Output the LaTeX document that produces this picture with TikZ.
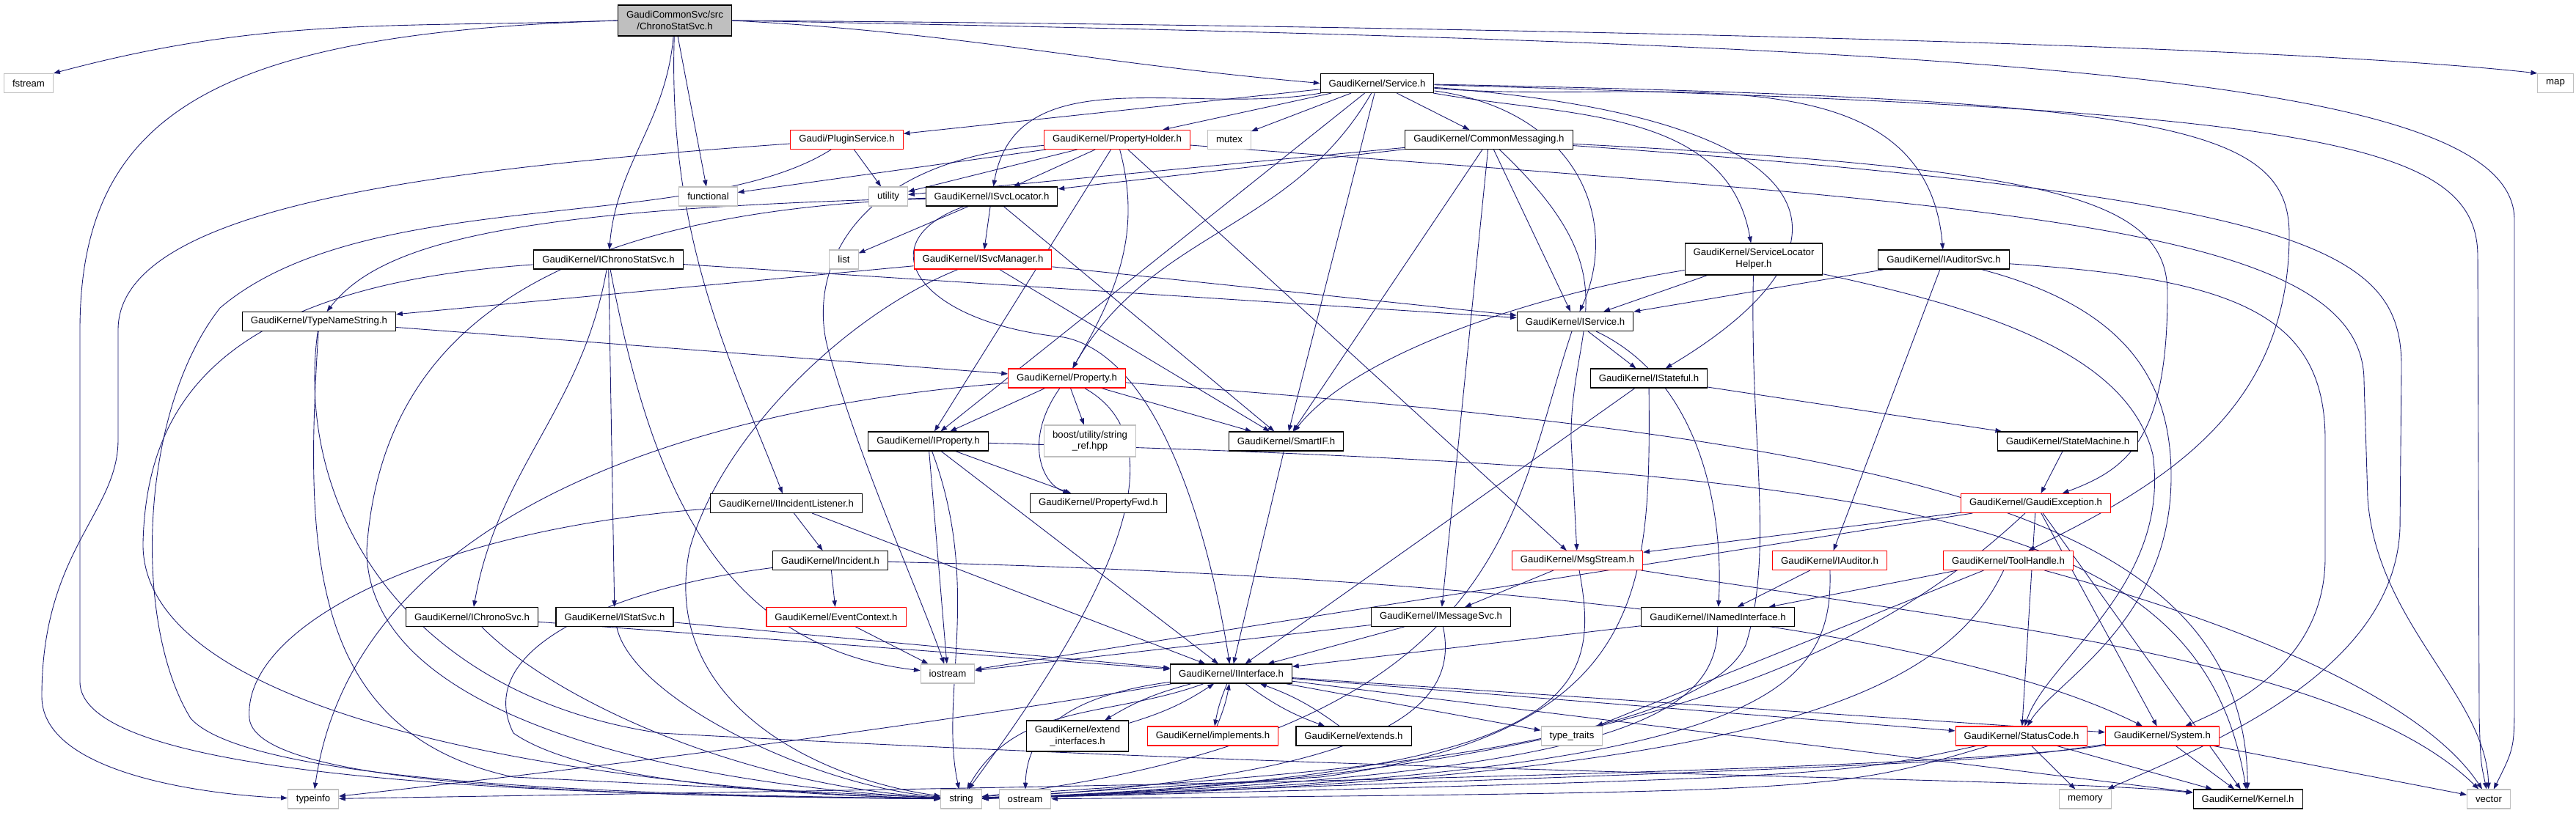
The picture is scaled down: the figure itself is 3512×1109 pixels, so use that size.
\documentclass[tikz,border=0pt]{standalone}
\usepackage{fontspec}
\setmainfont{Liberation Sans}
\usetikzlibrary{arrows.meta,backgrounds}
\definecolor{edgeblue}{HTML}{191970}
\definecolor{boxgray}{HTML}{BFBFBF}
\definecolor{boxred}{HTML}{FF0000}
\begin{document}
\begin{tikzpicture}[x=0.2mm, y=-0.2mm,
  hdr/.style={draw=black, line width=0.6pt, fill=white, inner xsep=0.23cm, inner ysep=0pt,
    minimum height=0.52cm, align=center, font=\fontsize{7.5}{9}\selectfont},
  redhdr/.style={hdr, draw=boxred},
  syshdr/.style={hdr, draw=boxgray},
  roothdr/.style={hdr, fill=boxgray, minimum height=0.84cm},
  dep/.style={draw=edgeblue, line width=0.5pt, -{Triangle[length=5pt,width=3.6pt]}}]
\useasboundingbox (0,0) rectangle (3512,1109);

\node[roothdr] (root) at (920,28) {GaudiCommonSvc/src\\/ChronoStatSvc.h};
\node[syshdr] (fstream) at (39,113.5) {fstream};
\node[syshdr] (map) at (3484,113.5) {map};
\node[hdr] (service) at (1877.5,113.5) {GaudiKernel/Service.h};
\node[redhdr] (plugin) at (1154.5,190.5) {Gaudi/PluginService.h};
\node[redhdr] (propholder) at (1523,190.5) {GaudiKernel/PropertyHolder.h};
\node[syshdr] (mutex) at (1676,190.5) {mutex};
\node[hdr] (commsg) at (2030,190.5) {GaudiKernel/CommonMessaging.h};
\node[syshdr] (functional) at (965.5,268) {functional};
\node[syshdr] (utility) at (1211,268) {utility};
\node[hdr] (svcloc) at (1352,268) {GaudiKernel/ISvcLocator.h};
\node[syshdr] (list) at (1150.5,354) {list};
\node[redhdr] (svcmgr) at (1340,354) {GaudiKernel/ISvcManager.h};
\node[hdr] (ichronostat) at (829.5,354) {GaudiKernel/IChronoStatSvc.h};
\node[hdr, minimum height=0.86cm] (slhelper) at (2391,353.5) {GaudiKernel/ServiceLocator\\Helper.h};
\node[hdr] (iauditorsvc) at (2650,354) {GaudiKernel/IAuditorSvc.h};
\node[hdr] (typename) at (435,438.5) {GaudiKernel/TypeNameString.h};
\node[hdr] (iservice) at (2147.5,438.5) {GaudiKernel/IService.h};
\node[redhdr] (property) at (1454.5,516) {GaudiKernel/Property.h};
\node[hdr] (istateful) at (2248,516) {GaudiKernel/IStateful.h};
\node[hdr] (iproperty) at (1265.5,602) {GaudiKernel/IProperty.h};
\node[syshdr, minimum height=0.86cm] (boost) at (1486,601.5) {boost/utility/string\\\_ref.hpp};
\node[hdr] (smartif) at (1753.5,602) {GaudiKernel/SmartIF.h};
\node[hdr] (statemachine) at (2819,602) {GaudiKernel/StateMachine.h};
\node[hdr] (iincidentl) at (1072,686.5) {GaudiKernel/IIncidentListener.h};
\node[hdr] (propfwd) at (1497.5,686.5) {GaudiKernel/PropertyFwd.h};
\node[redhdr] (gexc) at (2775.5,686.5) {GaudiKernel/GaudiException.h};
\node[hdr] (incident) at (1132,764.5) {GaudiKernel/Incident.h};
\node[redhdr] (msgstream) at (2150.5,764.5) {GaudiKernel/MsgStream.h};
\node[redhdr] (iauditor) at (2494.5,764.5) {GaudiKernel/IAuditor.h};
\node[redhdr] (toolhandle) at (2738,764.5) {GaudiKernel/ToolHandle.h};
\node[hdr] (ichrono) at (643.5,841.5) {GaudiKernel/IChronoSvc.h};
\node[hdr] (istat) at (838,841.5) {GaudiKernel/IStatSvc.h};
\node[redhdr] (evctx) at (1140,841.5) {GaudiKernel/EventContext.h};
\node[hdr] (imsgsvc) at (1964.5,841.5) {GaudiKernel/IMessageSvc.h};
\node[hdr] (inamed) at (2342,841.5) {GaudiKernel/INamedInterface.h};
\node[syshdr] (iostream) at (1292,919) {iostream};
\node[hdr] (iinterface) at (1678.5,919) {GaudiKernel/IInterface.h};
\node[hdr, minimum height=0.84cm] (extendif) at (1469,1004) {GaudiKernel/extend\\\_interfaces.h};
\node[redhdr] (implements) at (1653.5,1004) {GaudiKernel/implements.h};
\node[hdr] (extends) at (1845.5,1004) {GaudiKernel/extends.h};
\node[syshdr] (typetraits) at (2143,1004) {type\_traits};
\node[redhdr] (statuscode) at (2756,1004) {GaudiKernel/StatusCode.h};
\node[redhdr] (system) at (2948,1004) {GaudiKernel/System.h};
\node[syshdr] (typeinfo) at (427,1090) {typeinfo};
\node[syshdr] (string) at (1310.5,1090) {string};
\node[syshdr] (ostream) at (1397.5,1090) {ostream};
\node[syshdr] (memory) at (2843,1090) {memory};
\node[hdr] (kernel) at (3064.5,1090) {GaudiKernel/Kernel.h};
\node[syshdr] (vector) at (3393,1090) {vector};

\begin{pgfonlayer}{background}
% ChronoStatSvc.h
\draw[dep] (root.west) to[out=182,in=15] (fstream.north east);
\draw[dep] (root.west) .. controls (300,45) and (109,150) .. (109,450) -- (109,930) .. controls (109,1060) and (700,1085) .. (string);
\draw[dep] (root.east) .. controls (2000,35) and (3100,60) .. (map.north west);
\draw[dep] (root.east) .. controls (2700,60) and (3428,100) .. (3428,300) -- (3428,950) .. controls (3428,1020) .. (vector);
\draw[dep] (root.east) to[out=-3,in=175] (service.west);
\draw[dep] (root) -- (functional);
\draw[dep] (root) to[out=-95,in=85] (ichronostat);
\draw[dep] (root) .. controls (910,330) and (1000,500) .. (iincidentl);
% Service.h
\draw[dep] (service) -- (plugin);
\draw[dep] (service) -- (propholder);
\draw[dep] (service) -- (mutex);
\draw[dep] (service) -- (commsg);
\draw[dep] (service) to[out=190,in=80] (svcloc);
\draw[dep] (service) .. controls (2150,150) and (2210,300) .. (iservice);
\draw[dep] (service) to[out=-120,in=60] (property);
\draw[dep] (service) -- (iproperty);
\draw[dep] (service) -- (smartif);
\draw[dep] (service) .. controls (2500,160) and (2560,330) .. (istateful);
\draw[dep] (service) to[out=-10,in=100] (slhelper);
\draw[dep] (service) to[out=-5,in=95] (iauditorsvc);
\draw[dep] (service) .. controls (2950,135) and (3121,170) .. (3121,320) .. controls (3121,560) and (2950,660) .. (toolhandle);
\draw[dep] (service) .. controls (3150,150) and (3378,190) .. (3378,350) -- (3380,980) .. controls (3382,1040) .. (vector);
% PropertyHolder.h
\draw[dep] (propholder) -- (functional);
\draw[dep] (propholder) -- (utility);
\draw[dep] (propholder) -- (svcloc);
\draw[dep] (propholder) to[out=-75,in=60] (property);
\draw[dep] (propholder) -- (iproperty);
\draw[dep] (propholder) .. controls (1150,220) and (1100,380) .. (1130,480) .. controls (1180,650) and (1250,800) .. (iostream);
\draw[dep] (propholder) -- (msgstream);
\draw[dep] (propholder) .. controls (2700,280) and (3223,300) .. (3223,520) -- (3228,680) .. controls (3240,850) and (3390,950) .. (vector);
% CommonMessaging.h
\draw[dep] (commsg) -- (utility);
\draw[dep] (commsg) -- (svcloc);
\draw[dep] (commsg) -- (iservice);
\draw[dep] (commsg) -- (smartif);
\draw[dep] (commsg) .. controls (2230,380) and (2140,440) .. (2142,600) -- (msgstream);
\draw[dep] (commsg) -- (imsgsvc);
\draw[dep] (commsg) .. controls (2800,230) and (2955,270) .. (2955,400) .. controls (2955,600) and (2900,640) .. (gexc);
\draw[dep] (commsg) .. controls (3150,270) and (3274,340) .. (3274,500) -- (3272,720) .. controls (3265,920) and (3000,1020) .. (memory);
% PluginService.h
\draw[dep] (plugin) -- (utility);
\draw[dep] (plugin) .. controls (600,230) and (161,280) .. (161,450) -- (161,600) .. controls (161,700) and (57,750) .. (57,950) .. controls (57,1060) and (300,1085) .. (typeinfo);
\draw[dep] (plugin) .. controls (950,320) and (500,250) .. (300,420) .. controls (190,560) and (180,850) .. (260,980) .. controls (350,1080) and (1000,1085) .. (string);
% ISvcLocator.h
\draw[dep] (svcloc) -- (list);
\draw[dep] (svcloc) -- (svcmgr);
\draw[dep] (svcloc) .. controls (700,285) and (520,330) .. (typename);
\draw[dep] (svcloc) .. controls (750,290) and (520,450) .. (500,750) .. controls (500,1000) and (1000,1075) .. (string);
\draw[dep] (svcloc) -- (smartif);
\draw[dep] (svcloc) .. controls (1180,330) and (1250,440) .. (1450,460) .. controls (1600,490) and (1660,800) .. (iinterface);
% ISvcManager.h
\draw[dep] (svcmgr) -- (typename);
\draw[dep] (svcmgr) -- (iservice);
\draw[dep] (svcmgr) -- (smartif);
\draw[dep] (svcmgr) .. controls (1150,430) and (980,600) .. (940,750) .. controls (900,950) and (1100,1060) .. (string);
% IChronoStatSvc.h
\draw[dep] (ichronostat) -- (iservice);
\draw[dep] (ichronostat) to[out=-100,in=80] (ichrono);
\draw[dep] (ichronostat) -- (istat);
\draw[dep] (ichronostat) .. controls (880,620) and (960,880) .. (iostream);
\draw[dep] (ichronostat) .. controls (300,390) and (200,550) .. (195,740) .. controls (190,1000) and (900,1080) .. (string);
% ServiceLocatorHelper.h
\draw[dep] (slhelper) -- (iservice);
\draw[dep] (slhelper) .. controls (2100,400) and (1850,480) .. (smartif);
\draw[dep] (slhelper) .. controls (2385,600) and (2420,750) .. (2380,880) .. controls (2300,1050) and (1500,1070) .. (string);
\draw[dep] (slhelper) .. controls (2700,420) and (2900,480) .. (2935,620) .. controls (2960,800) and (2790,900) .. (statuscode);
% IAuditorSvc.h
\draw[dep] (iauditorsvc) -- (iservice);
\draw[dep] (iauditorsvc) -- (iauditor);
\draw[dep] (iauditorsvc) .. controls (3050,380) and (3170,430) .. (3170,600) -- (3170,760) .. controls (3170,900) and (3050,960) .. (system);
\draw[dep] (iauditorsvc) .. controls (2900,420) and (2960,520) .. (2960,650) .. controls (2960,850) and (2800,930) .. (statuscode);
% TypeNameString.h
\draw[dep] (typename) -- (property);
\draw[dep] (typename) .. controls (415,750) and (420,1000) .. (700,1060) -- (string);
\draw[dep] (typename) .. controls (400,700) and (560,950) .. (900,1000) .. controls (2000,1060) and (2800,1060) .. (kernel);
% Property.h
\draw[dep] (property) -- (iproperty);
\draw[dep] (property) -- (boost);
\draw[dep] (property) -- (smartif);
\draw[dep] (property) .. controls (1395,600) and (1420,660) .. (propfwd);
\draw[dep] (property) .. controls (900,560) and (480,720) .. (typeinfo);
\draw[dep] (property) .. controls (1640,620) and (1450,900) .. (string);
\draw[dep] (property) .. controls (2600,600) and (3060,700) .. (kernel);
% IProperty.h
\draw[dep] (iproperty) -- (propfwd);
\draw[dep] (iproperty) -- (iostream);
\draw[dep] (iproperty) .. controls (1340,800) and (1280,950) .. (string);
\draw[dep] (iproperty) -- (iinterface);
\draw[dep] (iproperty) .. controls (2600,640) and (3000,700) .. (kernel);
% SmartIF.h, IService.h, IStateful.h
\draw[dep] (smartif) -- (iinterface);
\draw[dep] (iservice) -- (istateful);
\draw[dep] (iservice) .. controls (2320,520) and (2350,700) .. (inamed);
\draw[dep] (iservice) .. controls (2060,700) and (2060,1000) .. (string);
\draw[dep] (istateful) -- (statemachine);
\draw[dep] (istateful) -- (iinterface);
\draw[dep] (istateful) .. controls (2250,800) and (2250,1000) .. (1800,1060) -- (string);
\draw[dep] (statemachine) -- (gexc);
% IIncidentListener.h, Incident.h
\draw[dep] (iincidentl) -- (incident);
\draw[dep] (iincidentl) -- (iinterface);
\draw[dep] (iincidentl) .. controls (600,720) and (330,850) .. (340,980) .. controls (350,1080) and (900,1085) .. (string);
\draw[dep] (incident) -- (evctx);
\draw[dep] (incident) .. controls (850,800) and (640,880) .. (700,1000) .. controls (800,1070) and (1100,1085) .. (string);
\draw[dep] (incident) .. controls (1800,780) and (2600,830) .. (system);
\draw[dep] (evctx) -- (iostream);
% IChronoSvc.h, IStatSvc.h, IMessageSvc.h, INamedInterface.h
\draw[dep] (ichrono) -- (iinterface);
\draw[dep] (ichrono) .. controls (750,950) and (1000,1070) .. (string);
\draw[dep] (istat) -- (iinterface);
\draw[dep] (istat) .. controls (860,950) and (1100,1070) .. (string);
\draw[dep] (imsgsvc) -- (iinterface);
\draw[dep] (imsgsvc) -- (iostream);
\draw[dep] (imsgsvc) .. controls (1990,960) and (1900,1060) .. (string);
\draw[dep] (inamed) -- (iinterface);
\draw[dep] (inamed) .. controls (2340,980) and (2200,1060) .. (string);
% MsgStream.h, IAuditor.h, ToolHandle.h
\draw[dep] (msgstream) -- (imsgsvc);
\draw[dep] (msgstream) .. controls (2185,950) and (2150,1060) .. (string);
\draw[dep] (msgstream) .. controls (2700,850) and (3200,900) .. (vector);
\draw[dep] (iauditor) -- (inamed);
\draw[dep] (iauditor) .. controls (2500,950) and (2400,1060) .. (string);
\draw[dep] (toolhandle) -- (inamed);
\draw[dep] (toolhandle) -- (typetraits);
\draw[dep] (toolhandle) .. controls (2650,950) and (2400,1065) .. (string);
\draw[dep] (toolhandle) .. controls (3050,850) and (3300,950) .. (vector);
% GaudiException.h
\draw[dep] (gexc) -- (msgstream);
\draw[dep] (gexc) -- (iostream);
\draw[dep] (gexc) -- (statuscode);
\draw[dep] (gexc) -- (system);
\draw[dep] (gexc) -- (kernel);
\draw[dep] (gexc) .. controls (2600,850) and (2300,1060) .. (string);
% IInterface.h
\draw[dep] (iinterface) to[bend right=8] (extendif);
\draw[dep] (extendif) to[bend right=8] (iinterface);
\draw[dep] (iinterface) to[bend right=6] (implements);
\draw[dep] (implements) to[bend right=6] (iinterface);
\draw[dep] (iinterface) to[bend right=8] (extends);
\draw[dep] (extends) to[bend right=8] (iinterface);
\draw[dep] (iinterface) .. controls (1200,1000) and (700,1060) .. (typeinfo);
\draw[dep] (iinterface) to[out=200,in=60] (string);
\draw[dep] (iinterface) .. controls (1450,950) and (1400,1000) .. (ostream);
\draw[dep] (iinterface) -- (typetraits);
\draw[dep] (iinterface) -- (statuscode);
\draw[dep] (iinterface) -- (system);
\draw[dep] (iinterface) -- (kernel);
% StatusCode.h, System.h
\draw[dep] (statuscode) -- (memory);
\draw[dep] (statuscode) -- (kernel);
\draw[dep] (statuscode) .. controls (2500,1060) .. (string);
\draw[dep] (statuscode) .. controls (2500,1080) .. (ostream);
\draw[dep] (system) -- (kernel);
\draw[dep] (system) -- (vector);
\draw[dep] (system) .. controls (2700,1040) .. (string);
\draw[dep] (system) .. controls (2600,1060) and (1000,1080) .. (typeinfo);
\end{pgfonlayer}
\end{tikzpicture}
\end{document}
